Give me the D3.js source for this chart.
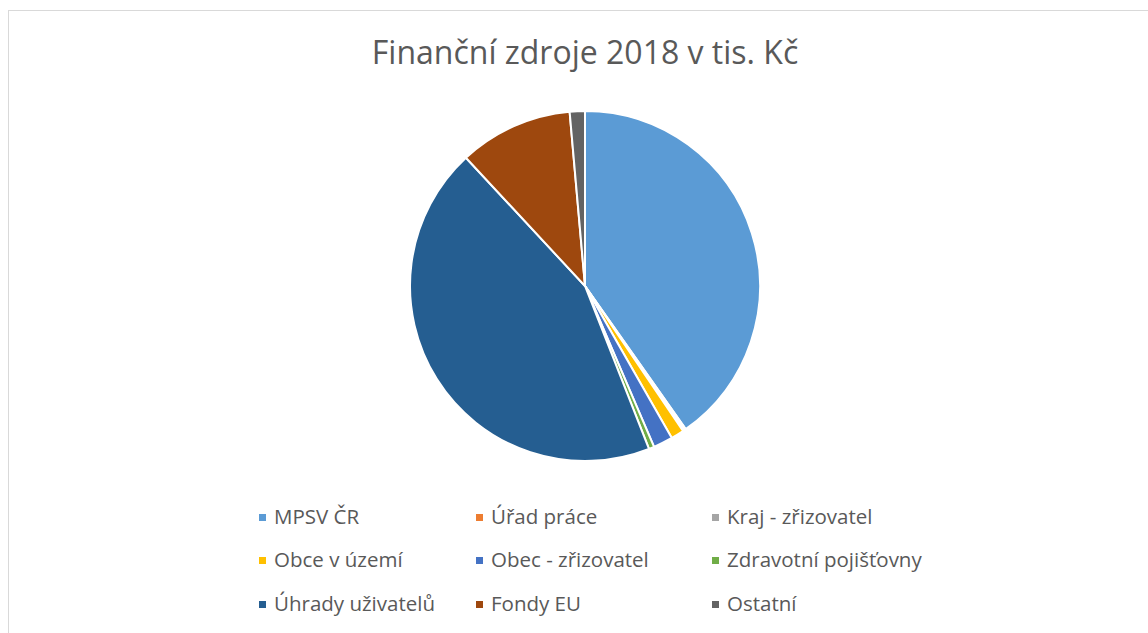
<!DOCTYPE html>
<html>
<head>
<meta charset="utf-8">
<script src="https://cdn.jsdelivr.net/npm/d3@7"></script>
<style>
  body { margin: 0; background: #ffffff; }
  svg text { font-family: "Open Sans", "Noto Sans", sans-serif; fill: #595959; }
</style>
</head>
<body>
<svg id="chart" width="1148" height="633"></svg>
<script>
// data (v tis. Kč, odhad z grafu)
const categories = ['MPSV ČR', 'Úřad práce', 'Kraj - zřizovatel', 'Obce v území', 'Obec - zřizovatel',
  'Zdravotní pojišťovny', 'Úhrady uživatelů', 'Fondy EU', 'Ostatní'];
const values = [16080, 60, 60, 480, 720, 200, 17600, 4200, 560];
const colors = ['#5B9BD5', '#ED7D31', '#A5A5A5', '#FFC000', '#4472C4', '#70AD47', '#255E91', '#9E480E', '#636363'];
const chartTitle = 'Finanční zdroje 2018 v tis. Kč';

// layout
const svg = d3.select('#chart');
const cx = 585, cy = 286, radius = 175;
const legendCols = [259, 476, 712]; // x of the colour square
const legendRows = [517, 560, 604];

// chart frame
svg.append('rect')
  .attr('x', 8.5)
  .attr('y', 10.5)
  .attr('width', 1160)
  .attr('height', 640)
  .attr('fill', 'none')
  .attr('stroke', '#d9d9d9')
  .attr('stroke-width', 1);

// title
svg.append('text')
  .attr('x', cx)
  .attr('y', 64)
  .attr('text-anchor', 'middle')
  .attr('font-size', '32px')
  .text(chartTitle);

// pie
const pie = d3.pie().sort(null).value(d => d);
const arc = d3.arc().innerRadius(0).outerRadius(radius);

svg.append('g')
    .attr('transform', 'translate(' + cx + ',' + cy + ')')
  .selectAll('path')
  .data(pie(values))
  .join('path')
    .attr('d', arc)
    .attr('fill', (d, i) => colors[i])
    .attr('stroke', '#ffffff')
    .attr('stroke-width', 2)
    .attr('stroke-linejoin', 'round');

// legend
const legend = svg.append('g')
  .selectAll('g')
  .data(categories)
  .join('g')
    .attr('transform', (d, i) => 'translate(' + legendCols[i % 3] + ',' + legendRows[Math.floor(i / 3)] + ')');

legend.append('rect')
  .attr('x', 0)
  .attr('y', -3)
  .attr('width', 7)
  .attr('height', 7)
  .attr('fill', (d, i) => colors[i]);

legend.append('text')
  .attr('x', 15)
  .attr('y', 0)
  .attr('dy', '0.35em')
  .attr('font-size', '20.5px')
  .text(d => d);
</script>
</body>
</html>
